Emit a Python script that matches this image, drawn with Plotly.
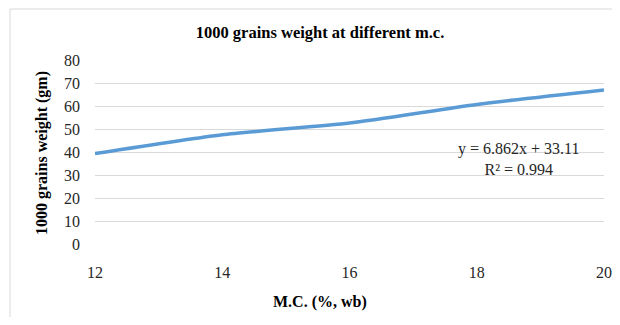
import plotly.graph_objects as go

mc = [12, 14, 16, 18, 20]
weight = [39.3, 47.5, 52.6, 60.7, 67.0]
y_ticks = [0, 10, 20, 30, 40, 50, 60, 70, 80]
x_ticks = [12, 14, 16, 18, 20]
title = "1000 grains weight at different m.c."
x_title = "M.C. (%, wb)"
y_title = "1000 grains weight (gm)"
eq_text = "y = 6.862x + 33.11<br>R² = 0.994"

serif = "Liberation Serif, Times New Roman, serif"

# page body has 8px default margin, so the figure is drawn offset by 8px
O = 8
FW, FH = 620 - 2 * O, 325 - 2 * O
px_left, px_right, px_top, px_bottom = 95 - O, 604 - O, 60 - O, 244 - O
L, R, T, B = px_left, FW - px_right, px_top, FH - px_bottom
W = px_right - px_left
H = px_bottom - px_top

fig = go.Figure()
fig.add_trace(go.Scatter(
    x=mc, y=weight, mode="lines",
    line=dict(color="#5B9BD5", width=3.5, shape="spline", smoothing=0.6),
    showlegend=False, hoverinfo="skip", cliponaxis=False,
))

fig.update_layout(
    width=FW, height=FH,
    margin=dict(l=L, r=R, t=T, b=B, autoexpand=False),
    paper_bgcolor="white", plot_bgcolor="white",
    font=dict(family=serif, size=16, color="#262626"),
    title=dict(text="<b>" + title + "</b>", x=(320 - O) / FW, xref="container", xanchor="center",
               y=1 - (32 - O) / FH, yref="container", yanchor="middle",
               font=dict(family=serif, size=16.5, color="#000000")),
    xaxis=dict(range=[12, 20], tickvals=x_ticks, showgrid=False, zeroline=False,
               showline=False, ticks="", ticklabelstandoff=17, automargin=False,
               ticklabeloverflow="allow",
               tickfont=dict(family=serif, size=16, color="#262626")),
    yaxis=dict(range=[0, 80], tickvals=y_ticks, showgrid=True, gridcolor="#D9D9D9",
               gridwidth=1, zeroline=False, showline=False, ticks="", automargin=False,
               ticklabelstandoff=14,
               tickfont=dict(family=serif, size=16, color="#262626")),
    annotations=[
        dict(text="<b>" + x_title + "</b>", xref="paper", yref="paper",
             x=(320 - 95) / W, y=-(302 - 244) / H, xanchor="center", yanchor="middle",
             showarrow=False, font=dict(family=serif, size=16, color="#000000")),
        dict(text="<b>" + y_title + "</b>", xref="paper", yref="paper",
             x=-(95 - 42) / W, y=(244 - 153) / H, xanchor="center", yanchor="middle",
             textangle=-90, showarrow=False,
             font=dict(family=serif, size=16, color="#000000")),
        dict(text=eq_text, xref="x", yref="y", x=18.65, y=37, xanchor="center",
             yanchor="middle", showarrow=False, align="center",
             font=dict(family=serif, size=16, color="#262626")),
    ],
    shapes=[
        dict(type="line", xref="paper", yref="paper", x0=-(95 - 10) / W, x1=1.2,
             y0=1 + (60 - 9) / H, y1=1 + (60 - 9) / H,
             line=dict(color="#D9D9D9", width=1)),
        dict(type="line", xref="paper", yref="paper", x0=-(95 - 10) / W, x1=-(95 - 10) / W,
             y0=1 + (60 - 9) / H, y1=-0.6,
             line=dict(color="#D9D9D9", width=1)),
    ],
)

fig.write_html("out.html")
